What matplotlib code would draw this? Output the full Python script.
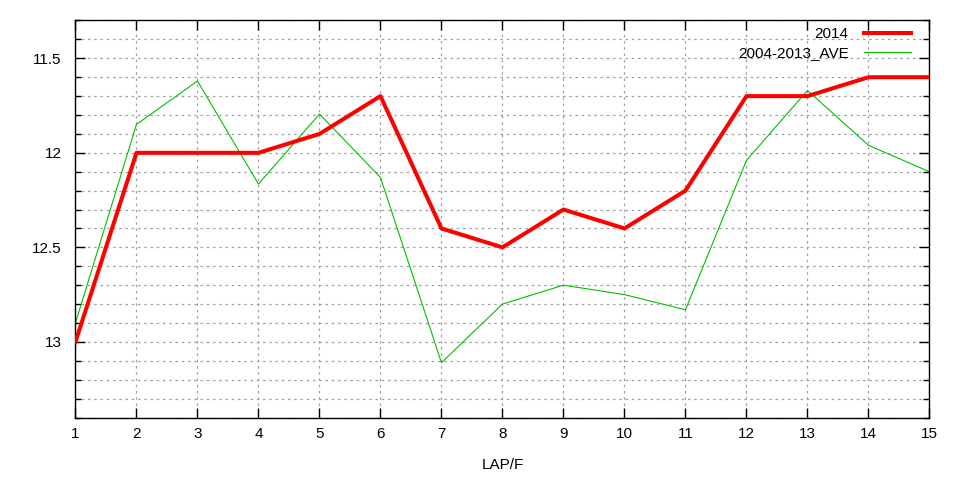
import matplotlib
matplotlib.use('Agg')
import matplotlib.pyplot as plt
from matplotlib.ticker import MultipleLocator, FormatStrFormatter

plt.rcParams['font.family'] = ['Liberation Sans', 'DejaVu Sans']

# lap number (x) vs finishing position (y, inverted)
laps = [1, 2, 3, 4, 5, 6, 7, 8, 9, 10, 11, 12, 13, 14, 15]
y2014 = [13.0, 12.0, 12.0, 12.0, 11.9, 11.7, 12.4, 12.5, 12.3, 12.4, 12.2, 11.7, 11.7, 11.6, 11.6]
yave = [12.9, 11.85, 11.62, 12.165, 11.795, 12.13, 13.11, 12.8, 12.7, 12.75, 12.83, 12.04, 11.67, 11.96, 12.1]

fig = plt.figure(figsize=(9.6, 4.8), dpi=100)
ax = fig.add_axes([0.0786, 0.1302, 0.8896, 0.8271])

ax.plot(laps, y2014, color='#ff0000', lw=2.9, label='2014', zorder=3)
ax.plot(laps, yave, color='#00c000', lw=0.8, label='2004-2013_AVE', zorder=2)

ax.set_xlim(1, 15)
ax.set_ylim(13.4, 11.3)

ax.xaxis.set_major_locator(MultipleLocator(1))
ax.yaxis.set_major_locator(MultipleLocator(0.5))
ax.yaxis.set_minor_locator(MultipleLocator(0.1))
ax.yaxis.set_major_formatter(FormatStrFormatter('%g'))

ax.tick_params(which='both', direction='in', top=True, right=True,
               labelsize=11, color='black')
ax.tick_params(axis='y', pad=10)
ax.tick_params(axis='x', pad=7)
ax.tick_params(which='major', length=7, width=1)
ax.tick_params(which='minor', length=4, width=1)

ax.grid(True, which='both', color='#a0a0a0', linestyle=(0, (2, 3)), lw=0.9)
ax.set_axisbelow(True)
for s in ax.spines.values():
    s.set_linewidth(1)

ax.set_xlabel('LAP/F', fontsize=11, labelpad=12)

leg = ax.legend(loc='upper right', bbox_to_anchor=(0.978, 0.984),
                frameon=False, markerfirst=False, fontsize=11,
                handlelength=3.07, handletextpad=1.0,
                labelspacing=0.35, borderpad=0, borderaxespad=0)
for t in leg.get_texts():
    t.set_ha('right')

fig.savefig('out.png', dpi=100)
